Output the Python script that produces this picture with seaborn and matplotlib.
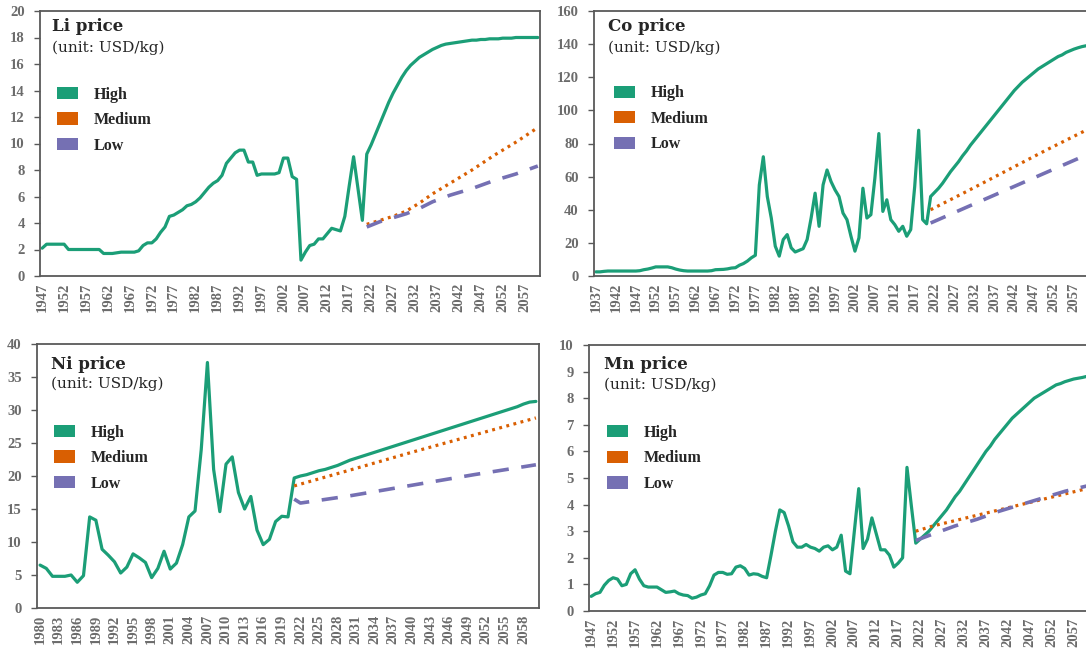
import numpy as np
import pandas as pd
import seaborn as sns
import matplotlib.pyplot as plt
from matplotlib.patches import Patch

# ---- data ----
li_start = 1947
li_hist = [2.1, 2.4, 2.4, 2.4, 2.4, 2.4, 2.0, 2.0, 2.0, 2.0,
           2.0, 2.0, 2.0, 2.0, 1.7, 1.7, 1.7, 1.75, 1.8, 1.8,
           1.8, 1.8, 1.9, 2.3, 2.5, 2.5, 2.8, 3.3, 3.7, 4.5,
           4.6, 4.8, 5.0, 5.3, 5.4, 5.6, 5.9, 6.3, 6.7, 7.0,
           7.2, 7.6, 8.5, 8.9, 9.3, 9.5, 9.5, 8.6, 8.6, 7.6,
           7.7, 7.7, 7.7, 7.7, 7.8, 8.9, 8.9, 7.5, 7.3, 1.2,
           1.8, 2.3, 2.4, 2.8, 2.8, 3.2, 3.6, 3.5, 3.4, 4.5,
           6.8, 9.0, 6.6, 4.2]
li_high = [9.2, 9.9, 10.7, 11.5, 12.3, 13.1, 13.8, 14.4, 15.0, 15.5,
           15.9, 16.2, 16.5, 16.7, 16.9, 17.1, 17.25, 17.4, 17.5, 17.55,
           17.6, 17.65, 17.7, 17.75, 17.8, 17.8, 17.85, 17.85, 17.9, 17.9,
           17.9, 17.95, 17.95, 17.95, 18.0, 18.0, 18.0, 18.0, 18.0, 18.0]
li_med_years = [2021, 2024, 2027, 2030, 2033, 2036, 2040, 2045, 2050, 2055, 2060]
li_med = [3.9, 4.2, 4.5, 4.9, 5.5, 6.2, 7.0, 8.0, 9.1, 10.1, 11.2]
li_low_years = [2021, 2024, 2027, 2030, 2033, 2036, 2040, 2045, 2050, 2055, 2060]
li_low = [3.7, 4.1, 4.4, 4.7, 5.1, 5.6, 6.1, 6.6, 7.2, 7.7, 8.3]

co_start = 1937
co_hist = [2.5, 2.5, 2.8, 3.0, 3.0, 3.0, 3.0, 3.0, 3.0, 3.0,
           3.0, 3.2, 3.8, 4.2, 4.8, 5.5, 5.5, 5.5, 5.5, 5.0,
           4.2, 3.6, 3.2, 3.0, 3.0, 3.0, 3.0, 3.0, 3.0, 3.2,
           3.8, 3.9, 4.0, 4.3, 4.8, 5.0, 6.5, 7.5, 9.0, 11.0,
           12.5, 55, 72, 48, 35, 18, 12, 22, 25, 17,
           14.5, 15.5, 16.5, 22, 35, 50, 30, 55, 64, 57,
           52, 48, 38, 34, 24, 15, 23, 53, 35, 37,
           59, 86, 39, 46, 34, 31, 27, 30, 24, 28,
           54, 88, 34, 31.5]
co_high = [48, 50.5, 53, 56, 59.5, 63, 66, 69, 72.5, 75.5,
           79, 82, 85, 88, 91, 94, 97, 100, 103, 106,
           109, 112, 114.5, 117, 119, 121, 123, 125, 126.5, 128,
           129.5, 131, 132.5, 133.5, 135, 136, 137, 137.8, 138.5, 139]
co_med_years = [2021, 2030, 2040, 2050, 2060]
co_med = [40, 51, 63.5, 76, 88]
co_low_years = [2021, 2030, 2040, 2050, 2060]
co_low = [32, 41.5, 52, 62.5, 73]

ni_start = 1980
ni_hist = [6.5, 6.0, 4.8, 4.8, 4.8, 5.0, 3.9, 4.9, 13.8, 13.3,
           8.9, 8.0, 7.0, 5.3, 6.2, 8.2, 7.6, 6.9, 4.6, 6.0,
           8.6, 5.9, 6.8, 9.6, 13.8, 14.7, 24.0, 37.2, 21.0, 14.6,
           21.8, 22.9, 17.5, 15.0, 16.9, 11.8, 9.6, 10.4, 13.1, 13.9,
           13.8]
ni_high = [19.7, 20.0, 20.2, 20.5, 20.8, 21.0, 21.3, 21.6, 22.0, 22.4,
           22.7, 23.0, 23.3, 23.6, 23.9, 24.2, 24.5, 24.8, 25.1, 25.4,
           25.7, 26.0, 26.3, 26.6, 26.9, 27.2, 27.5, 27.8, 28.1, 28.4,
           28.7, 29.0, 29.3, 29.6, 29.9, 30.2, 30.5, 30.9, 31.2, 31.3]
ni_med_years = [2021, 2030, 2040, 2050, 2060]
ni_med = [18.5, 20.9, 23.6, 26.2, 28.8]
ni_low_years = [2021, 2022, 2030, 2040, 2050, 2060]
ni_low = [16.5, 15.9, 17.0, 18.6, 20.2, 21.7]

mn_start = 1947
mn_hist = [0.55, 0.65, 0.7, 0.97, 1.15, 1.25, 1.2, 0.95, 1.0, 1.4,
           1.55, 1.2, 0.95, 0.9, 0.9, 0.9, 0.8, 0.7, 0.72, 0.75,
           0.65, 0.6, 0.58, 0.48, 0.52, 0.6, 0.65, 0.95, 1.35, 1.45,
           1.45, 1.38, 1.4, 1.65, 1.7, 1.6, 1.35, 1.4, 1.38, 1.3,
           1.25, 2.1, 3.0, 3.8, 3.7, 3.2, 2.6, 2.4, 2.4, 2.5,
           2.4, 2.35, 2.25, 2.4, 2.45, 2.3, 2.4, 2.85, 1.5, 1.4,
           3.0, 4.6, 2.35, 2.7, 3.5, 2.9, 2.3, 2.3, 2.1, 1.65,
           1.8, 2.0, 5.4, 3.95]
mn_high = [2.55, 2.7, 2.85, 3.0, 3.2, 3.4, 3.6, 3.8, 4.05, 4.3,
           4.5, 4.75, 5.0, 5.25, 5.5, 5.75, 6.0, 6.2, 6.45, 6.65,
           6.85, 7.05, 7.25, 7.4, 7.55, 7.7, 7.85, 8.0, 8.1, 8.2,
           8.3, 8.4, 8.5, 8.55, 8.62, 8.67, 8.72, 8.75, 8.78, 8.82]
mn_med_years = [2021, 2025, 2030, 2035, 2040, 2045, 2050, 2055, 2060]
mn_med = [3.0, 3.2, 3.4, 3.6, 3.8, 4.0, 4.2, 4.4, 4.6]
mn_low_years = [2021, 2025, 2030, 2035, 2040, 2045, 2050, 2055, 2060]
mn_low = [2.65, 2.9, 3.2, 3.45, 3.75, 4.0, 4.25, 4.5, 4.7]

end_year = 2060
labels = ["High", "Medium", "Low"]
colors = ["#1b9e77", "#d95f02", "#7570b3"]

sns.set_theme(style="white")
plt.rcParams["font.family"] = ["DejaVu Serif"]

TICK_FONT = dict(family="Liberation Serif", weight="bold", size=10.5)
TICK_COLOR = "#6b6b6b"


def draw_panel(ax, start, hist, high, med_years, med, low_years, low,
               ymax, ystep, xstep, name, title_y, unit_y, leg_x, leg_y, title_x):
    years = list(range(start, end_year + 1))
    values = hist + high
    assert len(values) == len(years), name
    df = pd.DataFrame({"year": years, "price": values})
    sns.lineplot(data=df, x="year", y="price", ax=ax, color=colors[0],
                 lw=2.3, legend=False)
    sns.lineplot(x=med_years, y=med, ax=ax, color=colors[1], lw=2.3,
                 linestyle=(0, (0.9, 1.4)), legend=False)
    sns.lineplot(x=low_years, y=low, ax=ax, color=colors[2], lw=2.6,
                 linestyle=(0, (4.5, 3.5)), legend=False)

    ax.set_xlim(start - 0.5, end_year + 0.5)
    ax.set_ylim(0, ymax)
    yt = np.arange(0, ymax + 0.001, ystep)
    ax.set_yticks(yt)
    ax.set_yticklabels([f"{v:g}" for v in yt], fontdict=TICK_FONT, color=TICK_COLOR)
    xt = list(range(start, end_year + 1, xstep))
    ax.set_xticks(xt)
    ax.set_xticklabels([str(y) for y in xt], rotation=90,
                       fontdict=TICK_FONT, color=TICK_COLOR)
    ax.tick_params(axis="x", length=0, pad=5)
    ax.tick_params(axis="y", length=4, width=1, color="#595959", pad=7,
                   direction="out", left=True)
    ax.set_xlabel("")
    ax.set_ylabel("")
    for sp in ax.spines.values():
        sp.set_color("#595959")
        sp.set_linewidth(1.3)

    ax.text(title_x, title_y, f"{name} price", transform=ax.transAxes,
            fontsize=12, fontweight="bold", va="top", ha="left")
    ax.text(title_x, unit_y, "(unit: USD/kg)", transform=ax.transAxes,
            fontsize=11, va="top", ha="left")
    handles = [Patch(facecolor=c, edgecolor="none") for c in colors]
    ax.legend(handles, labels, loc="upper left", bbox_to_anchor=(leg_x, leg_y),
              frameon=False, borderpad=0, borderaxespad=0,
              handlelength=1.3, handleheight=0.8, handletextpad=1.0,
              labelspacing=0.6,
              prop=dict(family="Liberation Serif", weight="bold", size=11.5))


fig = plt.figure(figsize=(10.86, 6.55), dpi=100)
W, H = 1086, 655

ax_li = fig.add_axes([40 / W, (H - 276) / H, 500 / W, 265 / H])
ax_co = fig.add_axes([594 / W, (H - 276) / H, 494 / W, 265 / H])
ax_ni = fig.add_axes([37 / W, (H - 608) / H, 502 / W, 264 / H])
ax_mn = fig.add_axes([589 / W, (H - 611) / H, 500 / W, 266 / H])

draw_panel(ax_li, li_start, li_hist, li_high, li_med_years, li_med,
           li_low_years, li_low, 20, 2, 5, "Li",
           0.975, 0.89, 0.034, 0.715, 0.024)
draw_panel(ax_co, co_start, co_hist, co_high, co_med_years, co_med,
           co_low_years, co_low, 160, 20, 5, "Co",
           0.975, 0.89, 0.04, 0.72, 0.028)
draw_panel(ax_ni, ni_start, ni_hist, ni_high, ni_med_years, ni_med,
           ni_low_years, ni_low, 40, 5, 3, "Ni",
           0.955, 0.875, 0.034, 0.695, 0.028)
draw_panel(ax_mn, mn_start, mn_hist, mn_high, mn_med_years, mn_med,
           mn_low_years, mn_low, 10, 1, 5, "Mn",
           0.958, 0.878, 0.036, 0.70, 0.03)

fig.savefig("out.png", dpi=100)
